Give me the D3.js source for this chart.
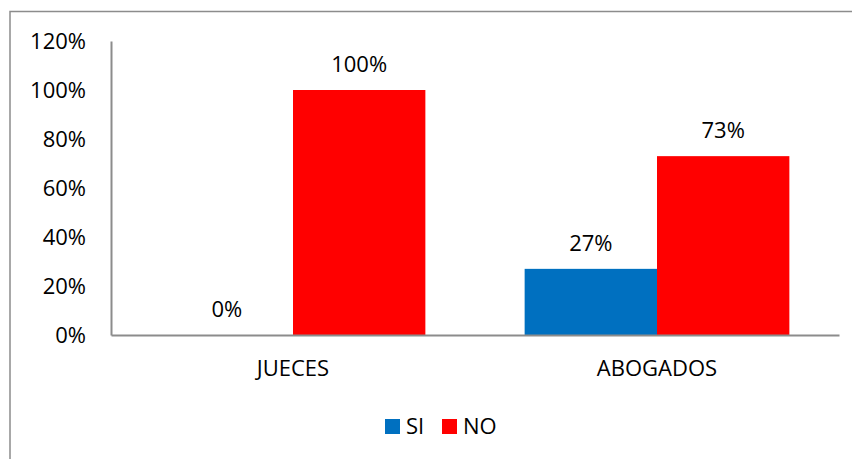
<!DOCTYPE html>
<html><head><meta charset="utf-8">
<script src="https://cdn.jsdelivr.net/npm/d3@7"></script>
<style>body{margin:0;background:#fff}svg{display:block}text{font-family:"Open Sans",sans-serif;fill:#000;font-weight:400}</style>
</head><body><svg id="c" width="852" height="459"></svg>
<script>
const categories = ["JUECES", "ABOGADOS"];
const seriesNames = ["SI", "NO"];
const siValues = [0, 27];
const noValues = [100, 73];
const yTicks = [0, 20, 40, 60, 80, 100, 120];
const colors = ["#0070C0", "#FF0000"];

const FS = "22px";
const svg = d3.select("#c");
const m = {l:111, r:839, t:41, b:335};
const x = d3.scaleBand().domain(categories).range([m.l, m.r]);
const y = d3.scaleLinear().domain([0,120]).range([m.b, m.t]);
const bw = x.bandwidth()/2.75;
const x1 = d3.scaleBand().domain(seriesNames).range([0, bw*2]);

svg.append("rect").attr("x",10).attr("y",11.5).attr("width",900).attr("height",500)
  .attr("fill","none").attr("stroke","#8c8c8c").attr("stroke-width",1.5);

const data = categories.map((c,i)=>({c, vals:[siValues[i], noValues[i]]}));
const g = svg.append("g");
data.forEach(d=>{
  d.vals.forEach((v,j)=>{
    const bx = x(d.c) + (x.bandwidth()-bw*2)/2 + x1(seriesNames[j]);
    g.append("rect").attr("x",bx).attr("y",y(v)).attr("width",x1.bandwidth())
      .attr("height",y(0)-y(v)).attr("fill",colors[j]);
    g.append("text").attr("x",bx+x1.bandwidth()/2).attr("y",y(v)-27)
      .attr("text-anchor","middle").attr("dominant-baseline","central")
      .style("font-size",FS).text(v+"%");
  });
});

// axes
const ya = d3.axisLeft(y).tickValues(yTicks).tickSize(0).tickPadding(25).tickFormat(d=>d+"%");
const yg = svg.append("g").attr("transform",`translate(${m.l},0)`).call(ya);
yg.select(".domain").attr("stroke","#8c8c8c").attr("stroke-width",2);
yg.selectAll("text").style("font-size",FS).attr("dy","-2").attr("dominant-baseline","central");

const xa = d3.axisBottom(x).tickSize(0).tickPadding(32);
const xg = svg.append("g").attr("transform",`translate(0,${m.b})`).call(xa);
xg.select(".domain").attr("stroke","#8c8c8c").attr("stroke-width",2);
xg.selectAll("text").style("font-size",FS).attr("dy",null).attr("dominant-baseline","central");

// legend
const lg = svg.append("g");
const lx = [385, 442];
seriesNames.forEach((s,j)=>{
  lg.append("rect").attr("x",lx[j]).attr("y",419).attr("width",15).attr("height",15).attr("fill",colors[j]);
  lg.append("text").attr("x",lx[j]+21).attr("y",425).attr("dominant-baseline","central")
    .style("font-size",FS).text(s);
});
</script></body></html>
